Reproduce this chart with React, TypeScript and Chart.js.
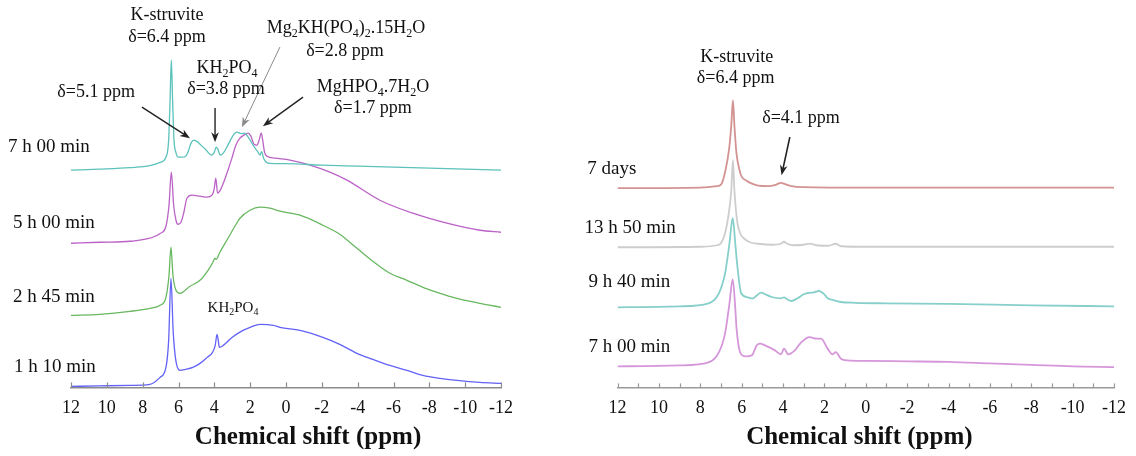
import React, { useEffect, useRef } from 'react';
import { Chart, registerables } from 'chart.js';

Chart.register(...registerables);

type Pt = [number, number];

// ---------- LEFT PANEL spectra: [chemical shift (ppm), intensity (stacked, a.u.)] ----------
const left7h00: Pt[] = [[12,217],[10.4,218],[8.7,219.5],[7.6,221.5],[7.0,225],[6.7,230],[6.55,247],[6.47,287],[6.4,327],[6.33,287],[6.25,247],[6.15,235],[6.0,230],[5.8,230],[5.6,231],[5.45,236],[5.3,244],[5.15,247],[5.0,246],[4.8,243],[4.5,238],[4.15,232],[4.0,235],[3.9,240],[3.8,238],[3.68,232],[3.5,234],[3.3,240],[3.1,247],[2.9,253],[2.75,255],[2.5,253.5],[2.3,254],[2.15,251],[2.0,247],[1.84,242],[1.6,236],[1.45,232],[1.36,235.5],[1.25,229],[1.1,225],[0.9,223.7],[0,223.5],[-2,222],[-4,221],[-6,220],[-8,219],[-10,218],[-12,217]];
const left5h00: Pt[] = [[12,144],[10.4,145],[8.7,146],[7.6,149],[7.0,154],[6.7,161],[6.53,182],[6.4,215],[6.27,182],[6.14,167],[6.03,163],[5.86,165],[5.7,175],[5.53,189],[5.25,192],[4.8,191],[4.41,190],[4.13,192],[4.0,199],[3.92,209],[3.82,194],[3.7,196],[3.5,204],[3.24,217],[3.02,229],[2.8,242],[2.57,249],[2.35,252],[2.12,254],[1.96,251],[1.79,243],[1.62,242],[1.5,247],[1.38,254],[1.3,247],[1.2,235],[1.06,231],[0.62,229],[-0.22,227],[-1.34,222],[-2.45,215],[-3.4,207],[-5.24,187],[-7.08,174],[-8.98,164],[-10.82,157],[-12,155]];
const left2h45: Pt[] = [[12,72],[10.4,73],[8.7,76],[7.6,79],[7.03,82],[6.7,90],[6.53,112],[6.42,140],[6.31,112],[6.14,97],[5.92,94],[5.36,101],[4.8,107],[4.35,117],[4.08,125],[3.96,129],[3.9,128],[3.69,135],[3.3,147],[2.85,161],[2.57,169],[2.01,177],[1.45,180],[0.9,179],[0.34,176],[-0.78,172],[-2.06,162],[-3.0,153],[-3.96,139],[-4.85,126],[-5.8,114],[-6.75,107],[-7.64,100],[-8.6,94],[-9.54,89],[-10.82,84],[-12,80]];
const left1h10: Pt[] = [[12,1],[10.4,1.5],[8.7,2],[7.6,3],[7.03,10],[6.7,20],[6.55,47],[6.42,109],[6.3,57],[6.15,27],[5.92,17],[5.6,18],[5.2,20],[4.8,24],[4.4,30],[4.1,35],[3.95,42],[3.85,53],[3.78,47],[3.72,40],[3.5,42],[3.0,50],[2.5,56],[2.0,60],[1.45,63],[0.7,62],[0.34,60],[-0.78,57],[-2.06,50],[-3.0,43],[-3.96,34],[-4.85,28],[-5.8,22],[-6.75,17],[-7.64,12],[-8.6,9],[-9.54,7],[-10.82,5],[-12,4]];

// ---------- RIGHT PANEL spectra ----------
const right7days: Pt[] = [[12,199],[8,199.5],[7.2,201],[7.0,202.5],[6.8,215],[6.6,239],[6.5,262],[6.42,287],[6.35,262],[6.25,234],[6.1,217],[6.0,210.5],[5.8,207],[5.5,203.5],[5.2,201.5],[4.7,201],[4.4,202],[4.1,204.3],[3.9,203],[3.6,201],[3.0,200],[0,199.5],[-6,199.5],[-12,199.5]];
const right13h50: Pt[] = [[12,140],[8,140.5],[7.2,142],[7.0,144],[6.8,154],[6.6,177],[6.5,197],[6.42,227],[6.35,197],[6.2,164],[6.05,153],[5.9,149],[5.6,145],[5.2,143.5],[4.5,142.5],[4.1,143.5],[3.95,145.5],[3.8,143.5],[3.5,142],[3.0,142.5],[2.7,143.7],[2.4,142],[1.8,141.5],[1.45,143.5],[1.2,141],[0,140.5],[-12,140.5]];
const right9h40: Pt[] = [[12,80],[9,81],[7.6,84],[7.1,94],[6.8,114],[6.6,142],[6.43,169],[6.3,142],[6.2,120],[6.02,94],[5.7,90],[5.48,88.7],[5.25,92],[5.06,94.7],[4.8,92.5],[4.55,90.3],[4.1,89],[3.95,90],[3.8,88],[3.6,86.3],[3.3,89],[3.0,93],[2.8,94.3],[2.5,95],[2.27,96.3],[2.0,93],[1.84,89],[1.52,87],[1.2,85.3],[0.5,84.5],[-1,84],[-4,83.5],[-8,82],[-12,81]];
const right7h00: Pt[] = [[12,21],[9,22],[7.6,25],[7.1,35],[6.8,54],[6.6,82],[6.43,108],[6.3,77],[6.25,60],[6.05,34],[5.82,31],[5.51,32],[5.27,42],[5.11,43.7],[4.87,42],[4.39,37],[4.1,33],[3.95,38.7],[3.75,33],[3.43,37],[3.12,45],[2.72,50.3],[2.4,48.7],[2.16,48.7],[1.84,38.7],[1.6,33],[1.45,35.3],[1.2,28.7],[0.88,27],[0,26.5],[-2,26],[-4,25.5],[-6,24],[-8,22.5],[-10,21],[-12,20.3]];

// ---------- Text ----------
type Part = { t: string; sub?: boolean };
type Note = { x: number; y: number; parts: Part[]; size: number; align: 'left' | 'center'; bold?: boolean };
type Arrow = { x1: number; y1: number; x2: number; y2: number; color: string; width: number };

const T = (s: string): Part[] => [{ t: s }];

const leftNotes: Note[] = [
  { x: 15.52, y: 240, parts: T('7 h 00 min'), size: 19, align: 'left' },
  { x: 15.24, y: 164, parts: T('5 h 00 min'), size: 19, align: 'left' },
  { x: 15.24, y: 90, parts: T('2 h 45 min'), size: 19, align: 'left' },
  { x: 15.18, y: 20, parts: T('1 h 10 min'), size: 19, align: 'left' },
  { x: 6.64, y: 372, parts: T('K-struvite'), size: 18, align: 'center' },
  { x: 6.64, y: 350, parts: T('δ=6.4 ppm'), size: 18, align: 'center' },
  { x: 10.6, y: 295, parts: T('δ=5.1 ppm'), size: 18, align: 'center' },
  { x: 3.29, y: 319, parts: [{ t: 'KH' }, { t: '2', sub: true }, { t: 'PO' }, { t: '4', sub: true }], size: 18, align: 'center' },
  { x: 3.35, y: 298, parts: T('δ=3.8 ppm'), size: 18, align: 'center' },
  { x: -3.35, y: 359, parts: [{ t: 'Mg' }, { t: '2', sub: true }, { t: 'KH(PO' }, { t: '4', sub: true }, { t: ')' }, { t: '2', sub: true }, { t: '.15H' }, { t: '2', sub: true }, { t: 'O' }], size: 18, align: 'center' },
  { x: -3.29, y: 336, parts: T('δ=2.8 ppm'), size: 18, align: 'center' },
  { x: -4.85, y: 300, parts: [{ t: 'MgHPO' }, { t: '4', sub: true }, { t: '.7H' }, { t: '2', sub: true }, { t: 'O' }], size: 18, align: 'center' },
  { x: -4.85, y: 279, parts: T('δ=1.7 ppm'), size: 18, align: 'center' },
  { x: 2.96, y: 79, parts: [{ t: 'KH' }, { t: '2', sub: true }, { t: 'PO' }, { t: '4', sub: true }], size: 15, align: 'center' },
  { x: -1.23, y: -50, parts: T('Chemical shift (ppm)'), size: 25, align: 'center', bold: true },
];
const leftArrows: Arrow[] = [
  { x1: 8.04, y1: 280, x2: 5.36, y2: 249, color: '#222', width: 1.4 },
  { x1: 3.96, y1: 279, x2: 3.96, y2: 245, color: '#222', width: 1.4 },
  { x1: 0.34, y1: 340, x2: 2.46, y2: 260, color: '#8a8a8a', width: 1 },
  { x1: -0.95, y1: 290, x2: 1.29, y2: 261, color: '#222', width: 1.4 },
];

const rightNotes: Note[] = [
  { x: 13.46, y: 218, parts: T('7 days'), size: 19, align: 'left' },
  { x: 13.6, y: 159, parts: T('13 h 50 min'), size: 19, align: 'left' },
  { x: 13.4, y: 105, parts: T('9 h 40 min'), size: 19, align: 'left' },
  { x: 13.4, y: 40, parts: T('7 h 00 min'), size: 19, align: 'left' },
  { x: 6.24, y: 330, parts: T('K-struvite'), size: 18, align: 'center' },
  { x: 6.29, y: 309, parts: T('δ=6.4 ppm'), size: 18, align: 'center' },
  { x: 3.13, y: 269, parts: T('δ=4.1 ppm'), size: 18, align: 'center' },
  { x: 0.31, y: -50, parts: T('Chemical shift (ppm)'), size: 25, align: 'center', bold: true },
];
const rightArrows: Arrow[] = [
  { x1: 3.67, y1: 250, x2: 4.07, y2: 212, color: '#222', width: 1.6 },
];

const FONT = '"Liberation Serif", "Times New Roman", serif';

function drawRich(ctx: CanvasRenderingContext2D, n: Note, x: number, y: number) {
  const w0 = n.bold ? 'bold ' : '';
  const base = `${w0}${n.size}px ${FONT}`;
  const sub = `${w0}${Math.round(n.size * 0.68)}px ${FONT}`;
  let w = 0;
  for (const p of n.parts) {
    ctx.font = p.sub ? sub : base;
    w += ctx.measureText(p.t).width;
  }
  let cx = n.align === 'center' ? x - w / 2 : x;
  ctx.textAlign = 'left';
  ctx.textBaseline = 'middle';
  ctx.fillStyle = '#111';
  for (const p of n.parts) {
    ctx.font = p.sub ? sub : base;
    ctx.fillText(p.t, cx, p.sub ? y + n.size * 0.3 : y);
    cx += ctx.measureText(p.t).width;
  }
}

function makeDecor(notes: Note[], arrows: Arrow[], tickLen: number, axisColor: string) {
  return {
    id: 'decor',
    afterDraw(chart: any) {
      const ctx: CanvasRenderingContext2D = chart.ctx;
      const xs = chart.scales.x;
      const ys = chart.scales.y;
      const yb = chart.chartArea.bottom;
      ctx.save();
      ctx.strokeStyle = axisColor;
      ctx.lineWidth = 1.2;
      xs.ticks.forEach((_t: any, i: number) => {
        const px = Math.round(xs.getPixelForTick(i)) + 0.5;
        ctx.beginPath();
        ctx.moveTo(px, yb);
        ctx.lineTo(px, yb - tickLen);
        ctx.stroke();
      });
      for (const a of arrows) {
        const x1 = xs.getPixelForValue(a.x1), y1 = ys.getPixelForValue(a.y1);
        const x2 = xs.getPixelForValue(a.x2), y2 = ys.getPixelForValue(a.y2);
        const ang = Math.atan2(y2 - y1, x2 - x1);
        const hl = 10, hw = 3.8;
        ctx.strokeStyle = a.color;
        ctx.fillStyle = a.color;
        ctx.lineWidth = a.width;
        ctx.beginPath();
        ctx.moveTo(x1, y1);
        ctx.lineTo(x2 - Math.cos(ang) * hl * 0.6, y2 - Math.sin(ang) * hl * 0.6);
        ctx.stroke();
        ctx.beginPath();
        ctx.moveTo(x2, y2);
        ctx.lineTo(x2 - Math.cos(ang) * hl - Math.sin(ang) * hw, y2 - Math.sin(ang) * hl + Math.cos(ang) * hw);
        ctx.lineTo(x2 - Math.cos(ang) * hl * 0.7, y2 - Math.sin(ang) * hl * 0.7);
        ctx.lineTo(x2 - Math.cos(ang) * hl + Math.sin(ang) * hw, y2 - Math.sin(ang) * hl - Math.cos(ang) * hw);
        ctx.closePath();
        ctx.fill();
      }
      for (const n of notes) {
        drawRich(ctx, n, xs.getPixelForValue(n.x), ys.getPixelForValue(n.y));
      }
      ctx.restore();
    },
  };
}

function ds(data: Pt[], color: string, width: number) {
  return {
    data: data.map(([x, y]) => ({ x, y })),
    borderColor: color,
    borderWidth: width,
    pointRadius: 0,
    cubicInterpolationMode: 'monotone',
    fill: false,
  };
}

function makeConfig(datasets: any[], padL: number, padR: number, step: number, plugin: any, axisColor: string): any {
  return {
    type: 'line',
    data: { datasets },
    options: {
      animation: false,
      responsive: false,
      devicePixelRatio: 1,
      layout: { padding: { left: padL, right: padR, top: 0, bottom: 27 } },
      plugins: { legend: { display: false }, tooltip: { enabled: false } },
      scales: {
        x: {
          type: 'linear',
          min: -12,
          max: 12,
          reverse: true,
          grid: { display: false, drawTicks: false },
          border: { display: true, color: axisColor, width: 1.5 },
          ticks: {
            stepSize: step,
            autoSkip: false,
            maxRotation: 0,
            padding: 10,
            color: '#111',
            font: { family: FONT, size: 18 },
            callback: (v: number) => (v % 2 === 0 ? String(v) : ''),
          },
        },
        y: { type: 'linear', min: 0, max: 387, display: false },
      },
    },
    plugins: [plugin],
  };
}

export default function App() {
  const leftRef = useRef<HTMLCanvasElement>(null);
  const rightRef = useRef<HTMLCanvasElement>(null);

  useEffect(() => {
    const left = new Chart(
      leftRef.current as HTMLCanvasElement,
      makeConfig(
        [
          ds(left1h10, '#6262f6', 1.3),
          ds(left2h45, '#68b860', 1.3),
          ds(left7h00, '#5cc2bb', 1.3),
          ds(left5h00, '#bb62c6', 1.3),
        ],
        71, 59, 2, makeDecor(leftNotes, leftArrows, 5, '#8c8c8c'), '#8c8c8c'
      )
    );
    const right = new Chart(
      rightRef.current as HTMLCanvasElement,
      makeConfig(
        [
          ds(right7h00, '#d696da', 1.8),
          ds(right9h40, '#86cfca', 1.8),
          ds(right13h50, '#cdcdcd', 1.8),
          ds(right7days, '#d39393', 1.8),
        ],
        57.5, 17, 1, makeDecor(rightNotes, rightArrows, 4, '#9a9a9a'), '#9a9a9a'
      )
    );
    return () => {
      left.destroy();
      right.destroy();
    };
  }, []);

  return (
    <div style={{ position: 'fixed', left: 0, top: 0, width: 1136, height: 456, background: '#fff' }}>
      <canvas ref={leftRef} width={560} height={456} style={{ position: 'absolute', left: 0, top: 0, width: 560, height: 456 }} />
      <canvas ref={rightRef} width={576} height={456} style={{ position: 'absolute', left: 560, top: 0, width: 576, height: 456 }} />
    </div>
  );
}
